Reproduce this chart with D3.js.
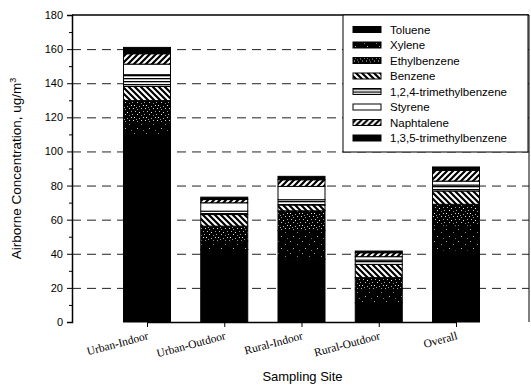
<!DOCTYPE html>
<html>
<head>
<meta charset="utf-8">
<script src="https://cdn.jsdelivr.net/npm/d3@7"></script>
<style>
  html, body { margin: 0; padding: 0; background: #fff; }
  svg { display: block; }
</style>
</head>
<body>
<svg id="chart" width="531" height="389"></svg>
<script>
// Sampling sites (x categories)
const sites = ["Urban-Indoor", "Urban-Outdoor", "Rural-Indoor", "Rural-Outdoor", "Overall"];

// Compounds, in stacking order from the bottom of each bar
const compounds = ["Toluene", "Xylene", "Ethylbenzene", "Benzene",
  "1,2,4-trimethylbenzene", "Styrene", "Naphtalene", "1,3,5-trimethylbenzene"];

// Airborne concentration (ug/m3) per compound, one value per site
const toluene      = [110.0, 42.5, 36.9, 11.3, 41.6];
const xylene       = [6.6, 4.9, 16.6, 7.9, 14.7];
const ethylbenzene = [13.2, 8.8, 11.7, 6.8, 12.7];
const benzene      = [8.3, 6.8, 3.4, 7.8, 7.8];
const tmb124       = [6.9, 2.0, 3.1, 2.5, 3.5];
const styrene      = [6.2, 4.9, 7.8, 2.0, 2.3];
const naphtalene   = [6.1, 1.9, 3.9, 2.3, 6.3];
const tmb135       = [3.7, 1.4, 2.0, 1.0, 2.0];

// Y axis ticks
const yTicks = [0, 20, 40, 60, 80, 100, 120, 140, 160, 180];
const yMinorTicks = [10, 30, 50, 70, 90, 110, 130, 150, 170];

const seriesValues = [toluene, xylene, ethylbenzene, benzene, tmb124, styrene, naphtalene, tmb135];
const table = sites.map((s, i) => {
  const row = { site: s };
  compounds.forEach((c, j) => { row[c] = seriesValues[j][i]; });
  return row;
});

const svg = d3.select("#chart");
const m = { left: 72, right: 529, top: 15, bottom: 322 };

const y = d3.scaleLinear().domain([0, 180]).range([m.bottom, m.top]);
const x = d3.scalePoint().domain(sites).range([m.left + 75, m.right - 73]);
const barW = 47;

// Fill patterns
const defs = svg.append("defs");
function pat(id, w, h, draw) {
  const p = defs.append("pattern").attr("id", id).attr("patternUnits", "userSpaceOnUse")
    .attr("width", w).attr("height", h);
  draw(p);
}
// speckle tiles: black ground with scattered light pixels
function speckle(id, size, dots) {
  pat(id, size, size, p => {
    p.append("rect").attr("width", size).attr("height", size).attr("fill", "#000");
    p.selectAll("rect.d").data(dots).join("rect").attr("class", "d")
      .attr("x", d => d[0]).attr("y", d => d[1]).attr("width", 1).attr("height", 1)
      .attr("fill", d => d[2]);
  });
}
speckle("p-xylene", 12, [[2, 1, "#aaa"], [9, 4, "#888"], [5, 8, "#bbb"], [11, 10, "#777"]]);
speckle("p-ethyl", 12, [
  [1, 0, "#ddd"], [5, 1, "#999"], [9, 0, "#ccc"], [3, 3, "#bbb"], [7, 4, "#eee"], [11, 3, "#999"],
  [0, 6, "#aaa"], [5, 6, "#ccc"], [9, 7, "#888"], [2, 9, "#eee"], [7, 10, "#aaa"], [11, 9, "#ddd"],
  [4, 11, "#999"]
]);
pat("p-benzene", 6, 6, p => {
  p.append("rect").attr("width", 6).attr("height", 6).attr("fill", "#fff");
  p.append("path").attr("d", "M-1,-1L7,7M-4,2L4,10M2,-4L10,4").attr("stroke", "#000").attr("stroke-width", 2.2);
});
pat("p-tmb124", 4, 3, p => {
  p.append("rect").attr("width", 4).attr("height", 3).attr("fill", "#fff");
  p.append("rect").attr("y", 0).attr("width", 4).attr("height", 1.3).attr("fill", "#000");
});
pat("p-naph", 6, 6, p => {
  p.append("rect").attr("width", 6).attr("height", 6).attr("fill", "#fff");
  p.append("path").attr("d", "M-1,7L7,-1M-4,4L4,-4M2,10L10,2").attr("stroke", "#000").attr("stroke-width", 2.2);
});
const fills = ["#000", "url(#p-xylene)", "url(#p-ethyl)", "url(#p-benzene)",
  "url(#p-tmb124)", "#fff", "url(#p-naph)", "#000"];

// Dashed grid lines
svg.append("g").selectAll("line").data(yTicks.filter(t => t > 0 && t < 180)).join("line")
  .attr("x1", m.left).attr("x2", m.right)
  .attr("y1", d => y(d) + 0.5).attr("y2", d => y(d) + 0.5)
  .attr("stroke", "#222").attr("stroke-width", 1).attr("stroke-dasharray", "9,6");

// Stacked bars
const stacked = d3.stack().keys(compounds)(table);
svg.append("g").selectAll("g").data(stacked).join("g")
  .attr("fill", (d, i) => fills[i])
  .selectAll("rect").data(d => d).join("rect")
  .attr("x", d => x(d.data.site) - barW / 2)
  .attr("y", d => y(d[1]))
  .attr("width", barW)
  .attr("height", d => y(d[0]) - y(d[1]))
  .attr("stroke", "#000").attr("stroke-width", 1);

// Frame lines (top and right)
svg.append("line").attr("x1", m.left).attr("x2", m.right).attr("y1", m.top).attr("y2", m.top)
  .attr("stroke", "#000").attr("stroke-width", 1.5);
svg.append("line").attr("x1", m.right).attr("x2", m.right).attr("y1", m.top).attr("y2", m.bottom)
  .attr("stroke", "#000").attr("stroke-width", 1);

// Y axis
const yAxis = svg.append("g").attr("transform", `translate(${m.left},0)`)
  .call(d3.axisLeft(y).tickValues(yTicks).tickSize(5).tickPadding(4).tickFormat(d3.format("d")));
yAxis.append("g").selectAll("line").data(yMinorTicks).join("line")
  .attr("x1", 0).attr("x2", -3).attr("y1", d => y(d) + 0.5).attr("y2", d => y(d) + 0.5)
  .attr("stroke", "#000");
yAxis.select(".domain").attr("stroke-width", 1.5);
yAxis.selectAll("text").attr("font-family", "Arial, 'Liberation Sans', sans-serif")
  .attr("font-size", 11).attr("fill", "#000");

// X axis
const xAxis = svg.append("g").attr("transform", `translate(0,${m.bottom})`)
  .call(d3.axisBottom(x).tickSize(5).tickSizeOuter(0).tickFormat(""));
xAxis.select(".domain").attr("stroke-width", 1.5);
xAxis.selectAll("line").attr("stroke", "#000");
svg.append("g").selectAll("text").data(sites).join("text")
  .attr("transform", d => `translate(${x(d) + 2},${m.bottom + 17}) rotate(-15)`)
  .attr("text-anchor", "end")
  .attr("font-family", "'Liberation Serif', 'Times New Roman', serif")
  .attr("font-size", 11.5).attr("fill", "#000")
  .text(d => d);

// Axis titles
svg.append("text")
  .attr("x", (m.left + m.right) / 2 + 2).attr("y", 381)
  .attr("text-anchor", "middle")
  .attr("font-family", "Arial, 'Liberation Sans', sans-serif").attr("font-size", 13)
  .text("Sampling Site");
const yt = svg.append("text")
  .attr("transform", `translate(21,${(m.top + m.bottom) / 2}) rotate(-90)`)
  .attr("text-anchor", "middle")
  .attr("font-family", "Arial, 'Liberation Sans', sans-serif").attr("font-size", 13.5);
yt.append("tspan").text("Airborne Concentration, ug/m");
yt.append("tspan").attr("font-size", 9).attr("dy", -5).text("3");

// Legend
const lg = svg.append("g");
lg.append("rect").attr("x", 343).attr("y", m.top).attr("width", 185).attr("height", 137)
  .attr("fill", "#fff").attr("stroke", "#000").attr("stroke-width", 1);
const row = lg.selectAll("g").data(compounds).join("g")
  .attr("transform", (d, i) => `translate(353,${29.5 + i * 15.5})`);
row.append("rect").attr("x", 0).attr("y", -3).attr("width", 28).attr("height", 6)
  .attr("fill", (d, i) => fills[i]).attr("stroke", "#000").attr("stroke-width", 1);
row.append("text").attr("x", 37).attr("y", 4)
  .attr("font-family", "Arial, 'Liberation Sans', sans-serif").attr("font-size", 11.5)
  .text(d => d);
</script>
</body>
</html>
